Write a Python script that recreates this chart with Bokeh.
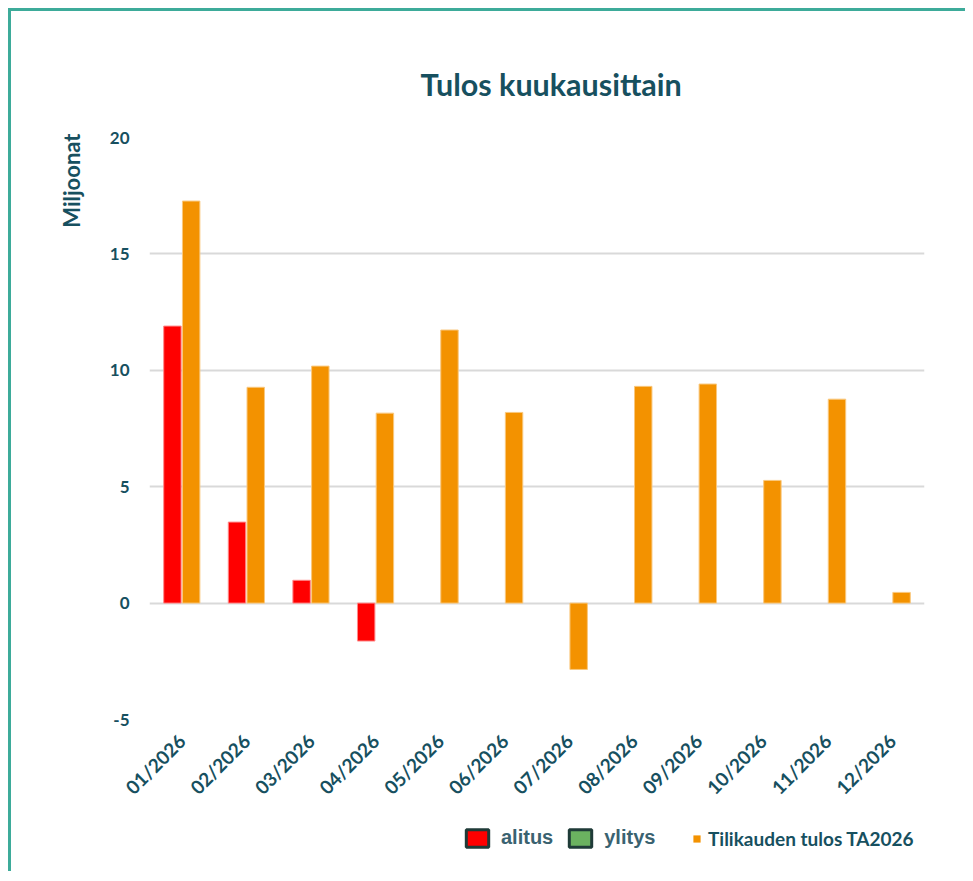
import math
import numpy as np
from bokeh.plotting import figure
from bokeh.layouts import column
from bokeh.models import (FactorRange, Range1d, FixedTicker, Title, Legend, LegendItem,
                          ColumnDataSource)
from bokeh.transform import dodge
from bokeh.embed import file_html
from bokeh.resources import INLINE

# ---- data ----
months = ["01/2026", "02/2026", "03/2026", "04/2026", "05/2026", "06/2026",
          "07/2026", "08/2026", "09/2026", "10/2026", "11/2026", "12/2026"]
alitus = [11.9, 3.48, 0.98, -1.63, None, None, None, None, None, None, None, None]
ylitys = [None] * 12
tilikauden_tulos = [17.27, 9.27, 10.18, 8.16, 11.73, 8.19, -2.85, 9.31, 9.41, 5.27, 8.76, 0.46]
y_ticks = [-5, 0, 5, 10, 15, 20]
y_tick_labels = ["-5", "0", "5", "10", "15", "20"]

title_text = "Tulos kuukausittain"
y_label_text = "Miljoonat"
series_names = ["alitus", "ylitys", "Tilikauden tulos TA2026"]

TEXT = "#17505F"
RED = "#FF0000"
GREEN = "#6BB260"
ORANGE = "#F39200"
BORDER = "#3DAB9A"


def nan_list(vals):
    return [np.nan if v is None else v for v in vals]


src = ColumnDataSource(dict(month=months, alitus=nan_list(alitus),
                            ylitys=nan_list(ylitys), tulos=nan_list(tilikauden_tulos)))

# ---------------- main chart ----------------
p = figure(x_range=FactorRange(*months, range_padding=0), y_range=Range1d(-5, 20),
           width=954, height=799, output_backend="svg", toolbar_location=None,
           min_border_left=138, min_border_right=41, min_border_top=126, min_border_bottom=91)
p.outline_line_color = None
p.background_fill_color = "white"
p.border_fill_color = "white"

r_alitus = p.vbar(x=dodge("month", -0.145, range=p.x_range), top="alitus", bottom=0, width=0.27,
                  source=src, fill_color=RED, line_color="#FF8A8A", line_width=1)
r_ylitys = p.vbar(x=dodge("month", 0.0, range=p.x_range), top="ylitys", bottom=0, width=0.27,
                  source=src, fill_color=GREEN, line_color="#A6D39E", line_width=1)
r_tulos = p.vbar(x=dodge("month", 0.145, range=p.x_range), top="tulos", bottom=0, width=0.27,
                 source=src, fill_color=ORANGE, line_color="#F9C87E", line_width=1)

p.xgrid.grid_line_color = None
p.ygrid.grid_line_color = "#D9D9D9"
p.ygrid.grid_line_width = 2
p.yaxis.ticker = FixedTicker(ticks=y_ticks)
p.yaxis.major_label_overrides = {t: s for t, s in zip(y_ticks, y_tick_labels)}
for ax in (p.xaxis[0], p.yaxis[0]):
    ax.axis_line_color = None
    ax.major_tick_line_color = None
    ax.minor_tick_line_color = None
    ax.major_tick_in = 0
    ax.major_tick_out = 0
    ax.major_label_text_font = "Lato"
    ax.major_label_text_font_style = "bold"
    ax.major_label_text_color = TEXT
p.yaxis.major_label_text_font_size = "17px"
p.xaxis.major_label_text_font_size = "19px"
p.yaxis.major_label_standoff = 20
p.xaxis.major_label_standoff = 18
p.xaxis.major_label_orientation = math.pi / 4

p.title.text = title_text
p.title.align = "left"
p.title.offset = 271
p.title.standoff = 72
p.title.text_font = "Lato"
p.title.text_font_style = "bold"
p.title.text_font_size = "30.5px"
p.title.text_color = TEXT

p.add_layout(Title(text=y_label_text, align="right", offset=-4, standoff=44,
                   text_font="Lato", text_font_style="bold", text_font_size="22px",
                   text_color=TEXT), "left")

# ---------------- legend strip ----------------
lg = figure(width=954, height=61, output_backend="svg", toolbar_location=None,
            x_axis_type=None, y_axis_type=None, min_border=0,
            x_range=Range1d(0, 1), y_range=Range1d(0, 1))
lg.outline_line_color = None
lg.grid.visible = False
lg.border_fill_color = "white"

# legend-only renderers (one empty row each, nothing drawn in the plot area)
d_al = lg.rect(x=[np.nan], y=[np.nan], width=1, height=1, fill_color=RED,
               line_color="#1F3B38", line_width=3)
d_yl = lg.rect(x=[np.nan], y=[np.nan], width=1, height=1, fill_color=GREEN,
               line_color="#1F3B38", line_width=3)
d_tu = lg.rect(x=[np.nan], y=[np.nan], width=1, height=1, fill_color=ORANGE, line_color=None)

leg_a = Legend(items=[LegendItem(label=series_names[0], renderers=[d_al]),
                      LegendItem(label=series_names[1], renderers=[d_yl])],
               location=(314, 22), orientation="horizontal",
               glyph_width=28, glyph_height=22, label_height=22, label_standoff=10, spacing=13,
               padding=0, margin=0, border_line_alpha=0, background_fill_alpha=0,
               label_text_font="Liberation Sans", label_text_font_style="bold",
               label_text_font_size="20px", label_text_color="#3A6270")
leg_b = Legend(items=[LegendItem(label=series_names[2], renderers=[d_tu])],
               location=(543, 21), orientation="horizontal",
               glyph_width=9, glyph_height=9, label_height=23, label_standoff=7,
               padding=0, margin=0, border_line_alpha=0, background_fill_alpha=0,
               label_text_font="Lato", label_text_font_style="bold",
               label_text_font_size="19px", label_text_color=TEXT)
lg.add_layout(leg_a)
lg.add_layout(leg_b)

layout = column(p, lg, spacing=0)
layout.styles = {"margin-left": "8px", "margin-top": "8px",
                 "border-left": f"3px solid {BORDER}", "border-top": f"3px solid {BORDER}"}

open("out.html", "w").write(file_html(layout, INLINE))
